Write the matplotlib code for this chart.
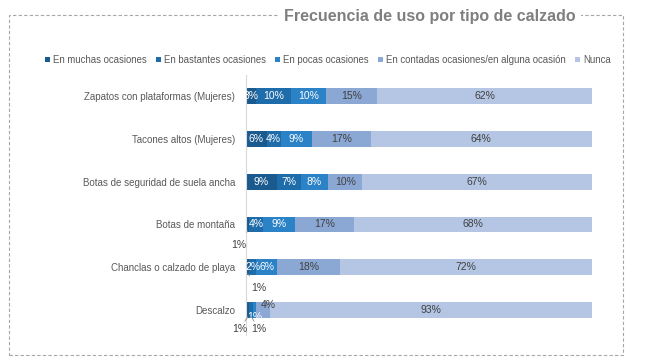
import matplotlib.pyplot as plt
from matplotlib.patches import Rectangle

plt.rcParams['font.family'] = ['Liberation Sans', 'DejaVu Sans']

# data
categorias = ['Zapatos con plataformas (Mujeres)', 'Tacones altos (Mujeres)',
              'Botas de seguridad de suela ancha', 'Botas de montaña',
              'Chanclas o calzado de playa', 'Descalzo']
series = ['En muchas ocasiones', 'En bastantes ocasiones', 'En pocas ocasiones',
          'En contadas ocasiones/en alguna ocasión', 'Nunca']
muchas = [3, 6, 9, 1, 1, 1]
bastantes = [10, 4, 7, 4, 2, 1]
pocas = [10, 9, 8, 9, 6, 1]
contadas = [15, 17, 10, 17, 18, 4]
nunca = [62, 64, 67, 68, 72, 93]

colores = ['#1b5a8e', '#1f6cab', '#2b82c6', '#8aa8d3', '#b4c6e4']
color_texto = ['white', 'white', 'white', '#404040', '#404040']
valores = [muchas, bastantes, pocas, contadas, nunca]

# 100% stacked: each row scaled to its own total
totales = [sum(v[i] for v in valores) for i in range(len(categorias))]
escalados = [[v[i] * 100 / totales[i] for i in range(len(categorias))] for v in valores]

W, H = 646, 364
fig = plt.figure(figsize=(W / 100, H / 100), dpi=100)
fig.patch.set_facecolor('white')

# dashed border
fig.patches.append(Rectangle((9 / W, 1 - 355 / H), 614 / W, 340 / H, transform=fig.transFigure,
                             fill=False, edgecolor='#a6a6a6', linestyle=(0, (3, 2)), linewidth=0.8))
fig.text(430 / W, 1 - 17 / H, 'Frecuencia de uso por tipo de calzado', ha='center', va='center',
         fontsize=11.5, fontweight='bold', color='#7f7f7f',
         bbox=dict(facecolor='white', edgecolor='none', pad=4))

ax = fig.add_axes([246 / W, 1 - 335 / H, 346 / W, 260 / H])
y = list(range(len(categorias)))
izquierda = [0] * len(categorias)
barras = []
for k, (nombre, vals) in enumerate(zip(series, escalados)):
    b = ax.barh(y, vals, left=izquierda, height=0.37, color=colores[k], label=nombre)
    barras.append(b)
    for i, v in enumerate(vals):
        cx = izquierda[i] + v / 2
        fuera = (k == 0 and i in (3, 4, 5)) or (k == 1 and i == 5)
        if fuera:
            continue
        dy, dx = 0, 0
        if k == 3 and i == 5:
            dy, dx = -0.12, 1.5
        if k == 2 and i == 5:
            dy = 0.15
        ax.text(cx + dx, i + dy, f'{valores[k][i]}%', ha='center', va='center', fontsize=7.5,
                color=color_texto[k])
    izquierda = [a + v for a, v in zip(izquierda, vals)]

# small values labelled outside the bar with leader lines
def etiqueta_fuera(serie_idx, cat_idx, dx, dy):
    base = sum(escalados[j][cat_idx] for j in range(serie_idx))
    v = escalados[serie_idx][cat_idx]
    ax.annotate(f'{valores[serie_idx][cat_idx]}%', xy=(base + v / 2, cat_idx + 0.15),
                xytext=(base + v / 2 + dx, cat_idx + dy),
                ha='center', va='center', fontsize=7.5, color='#404040', annotation_clip=False,
                arrowprops=dict(arrowstyle='-', color='#8c8c8c', lw=0.6, shrinkA=4, shrinkB=0))

etiqueta_fuera(0, 3, -2.5, 0.47)
etiqueta_fuera(0, 4, 3.3, 0.49)
etiqueta_fuera(0, 5, -2.2, 0.44)
etiqueta_fuera(1, 5, 2.3, 0.44)

ax.set_xlim(0, 100)
ax.set_ylim(5.58, -0.49)
ax.set_yticks(y)
ax.set_yticklabels(categorias, fontsize=7, color='#595959')
ax.tick_params(axis='y', length=0, pad=8)
ax.set_xticks([])
for s in ['top', 'right', 'bottom']:
    ax.spines[s].set_visible(False)
ax.spines['left'].set_color('#d9d9d9')
ax.spines['left'].set_linewidth(0.8)

fig.legend(handles=barras, labels=series, loc='center', bbox_to_anchor=(328 / W, 1 - 60 / H),
           ncol=5, frameon=False, fontsize=6.9, labelcolor='#595959', handlelength=0.5,
           handleheight=0.5, handletextpad=0.3, columnspacing=1.0)

fig.savefig('out.png', dpi=100)
